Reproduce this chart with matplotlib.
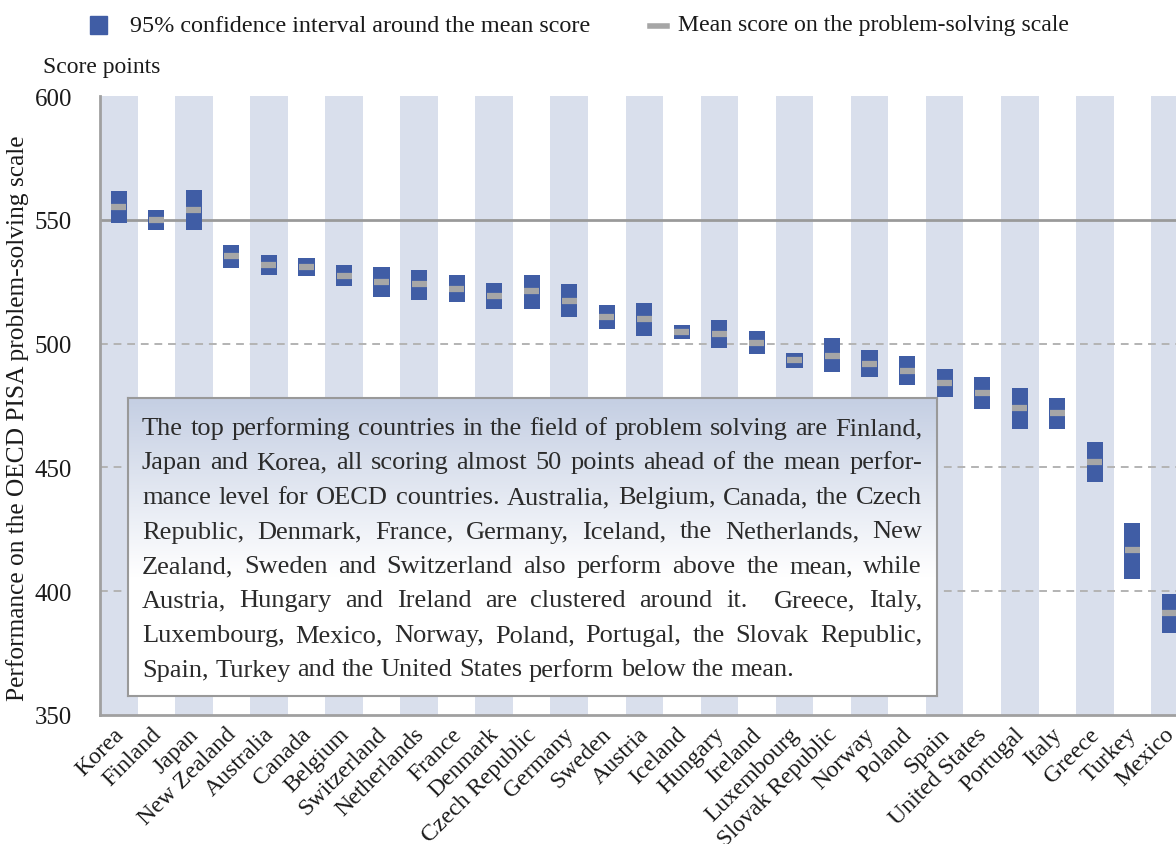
import numpy as np
import matplotlib
matplotlib.use("Agg")
import matplotlib.pyplot as plt
from matplotlib.patches import Rectangle
from matplotlib.font_manager import FontProperties
from matplotlib.transforms import ScaledTranslation

# ---------------- data ----------------
countries = ["Korea", "Finland", "Japan", "New Zealand", "Australia", "Canada",
             "Belgium", "Switzerland", "Netherlands", "France", "Denmark",
             "Czech Republic", "Germany", "Sweden", "Austria", "Iceland",
             "Hungary", "Ireland", "Luxembourg", "Slovak Republic", "Norway",
             "Poland", "Spain", "United States", "Portugal", "Italy", "Greece",
             "Turkey", "Mexico"]
ci_low = [548.6, 545.7, 545.7, 530.7, 527.8, 527.4, 523.2, 519.0, 517.8, 516.9,
          514.0, 514.0, 510.7, 505.7, 503.2, 501.9, 498.2, 495.7, 490.3, 488.6,
          486.5, 483.2, 478.6, 473.6, 465.7, 465.7, 444.0, 405.1, 383.2]
ci_high = [561.5, 554.0, 561.9, 539.9, 535.7, 534.4, 531.9, 531.1, 529.9, 527.8,
           524.4, 527.8, 524.0, 515.7, 516.5, 507.4, 509.4, 504.9, 496.1, 502.4,
           497.4, 494.9, 489.9, 486.5, 481.9, 478.2, 460.3, 427.7, 398.9]
mean_score = [555.3, 549.9, 554.0, 535.3, 531.8, 530.8, 527.4, 525.0, 524.0, 522.1,
              519.4, 521.1, 517.4, 510.8, 510.0, 504.7, 503.9, 500.1, 493.3, 495.1,
              491.9, 488.9, 484.2, 480.0, 474.0, 472.1, 452.2, 416.5, 391.2]
y_ticks = [350, 400, 450, 500, 550, 600]
solid_ref = 550
dashed_refs = [500, 450, 400]

legend_ci = "95% confidence interval around the mean score"
legend_mean = "Mean score on the problem-solving scale"
y_unit = "Score points"
y_label = "Performance on the OECD PISA problem-solving scale"
box_lines = [
    "The top performing countries in the field of problem solving are Finland,",
    "Japan and Korea, all scoring almost 50 points ahead of the mean perfor-",
    "mance level for OECD countries. Australia, Belgium, Canada, the Czech",
    "Republic, Denmark, France, Germany, Iceland, the Netherlands, New",
    "Zealand, Sweden and Switzerland also perform above the mean, while",
    "Austria, Hungary and Ireland are clustered around it.  Greece, Italy,",
    "Luxembourg, Mexico, Norway, Poland, Portugal, the Slovak Republic,",
    "Spain, Turkey and the United States perform below the mean.",
]

# ---------------- style ----------------
FONT = "Liberation Serif"
W, H = 1176, 845
STRIPE = "#d9dfec"
BAR = "#405da5"
MEANC = "#a6a6a6"
GRID = "#b3b3b3"
SPINE = "#a0a0a0"
TXT = "#1a1a1a"

fig = plt.figure(figsize=(W / 100, H / 100), dpi=100)
fig.patch.set_facecolor("white")
renderer = fig.canvas.get_renderer()


def fx(px):
    return px / W


def fy(py):
    return 1 - py / H


def twidth(s, size):
    fp = FontProperties(family=FONT, size=size)
    w, h, d = renderer.get_text_width_height_descent(s, fp, ismath=False)
    return w


def fit_size(s, target):
    return 10 * target / twidth(s, 10)


# ---------------- main axes ----------------
n = len(countries)
col_w = 37.54
ax_left, ax_top, ax_bottom = 100, 97, 716
ax = fig.add_axes([fx(ax_left), fy(ax_bottom), fx(col_w * n), (ax_bottom - ax_top) / H])
ax.set_xlim(-0.5, n - 0.5)
ax.set_ylim(y_ticks[0], y_ticks[-1])
x = np.arange(n)

for i in x:
    if i % 2 == 0:
        ax.axvspan(i - 0.5, i + 0.5, color=STRIPE, lw=0, zorder=0)

ax.axhline(solid_ref, color="#9a9a9a", lw=2, zorder=1)
for v in dashed_refs:
    ax.axhline(v, color=GRID, lw=1.4, ls=(0, (4, 3)), zorder=1)

low = np.array(ci_low)
high = np.array(ci_high)
ax.bar(x, high - low, bottom=low, width=0.43, color=BAR, zorder=3)
ax.hlines(mean_score, x - 0.2, x + 0.2, color=MEANC, lw=4.5, zorder=4)

for s in ["top", "right"]:
    ax.spines[s].set_visible(False)
for s in ["left", "bottom"]:
    ax.spines[s].set_color(SPINE)
    ax.spines[s].set_linewidth(2)

tick_size = fit_size("600", 37)
ax.set_yticks(y_ticks)
ax.set_yticklabels([str(v) for v in y_ticks], fontsize=tick_size, family=FONT, color=TXT)
ax.tick_params(axis="y", length=0, pad=20)
ax.set_xticks(x)
ax.set_xticklabels(countries, rotation=45, ha="right", va="top",
                   rotation_mode="anchor", fontsize=tick_size * 0.96, family=FONT, color=TXT)
ax.tick_params(axis="x", length=0, pad=6)
shift = ScaledTranslation(-6 / 100, 0, fig.dpi_scale_trans)
for lab in ax.get_xticklabels():
    lab.set_transform(lab.get_transform() + shift)

# ---------------- legend / labels ----------------
fig.patches.append(Rectangle((fx(90), fy(35)), fx(17), 18 / H, transform=fig.transFigure,
                             color=BAR, zorder=5))
fig.text(fx(130), fy(26), legend_ci, fontsize=fit_size(legend_ci, 460), family=FONT,
         color=TXT, va="center", ha="left")
fig.add_artist(plt.Line2D([fx(650), fx(667)], [fy(27), fy(27)], transform=fig.transFigure,
                          color=MEANC, lw=4))
fig.text(fx(678), fy(26), legend_mean, fontsize=fit_size(legend_mean, 391), family=FONT,
         color=TXT, va="center", ha="left")
fig.text(fx(43), fy(68), y_unit, fontsize=fit_size(y_unit, 117), family=FONT,
         color=TXT, va="center", ha="left")
fig.text(fx(18), fy(418), y_label, fontsize=fit_size(y_label, 565), family=FONT,
         color=TXT, va="center", ha="center", rotation=90)

# ---------------- text box ----------------
bx0, by0, bx1, by1 = 128, 399, 937, 697
bax = fig.add_axes([fx(bx0), fy(by1), fx(bx1 - bx0), (by1 - by0) / H], zorder=10)
grad = np.linspace(0, 1, 256)
top_c = np.array([0.77, 0.81, 0.89])
white = np.array([1.0, 1.0, 1.0])
t = np.clip(grad / 0.6, 0, 1)
img = (top_c[None, :] * (1 - t[:, None]) + white[None, :] * t[:, None])[:, None, :]
bax.imshow(img, aspect="auto", extent=[0, 1, 0, 1], origin="upper")
bax.set_xticks([])
bax.set_yticks([])
for s in bax.spines.values():
    s.set_color("#999999")
    s.set_linewidth(1.5)

tx0, tx1 = 142, 922
body_size = 10 * 772 / max(twidth(l, 10) for l in box_lines)
space_w = twidth("a b", body_size) - twidth("ab", body_size)
for i, line in enumerate(box_lines):
    yb = 435 + 34.5 * i
    words = line.split(" ")
    widths = [twidth(w_, body_size) if w_ else 0.0 for w_ in words]
    if i < len(box_lines) - 1:
        gap = (tx1 - tx0 - sum(widths)) / (len(words) - 1)
    else:
        gap = space_w
    xp = tx0
    for w_, wd in zip(words, widths):
        if w_:
            fig.text(fx(xp), fy(yb), w_, fontsize=body_size, family=FONT, color="#2b2b2b",
                     va="baseline", ha="left", zorder=11)
        xp += wd + gap

fig.savefig("out.png", dpi=100)
